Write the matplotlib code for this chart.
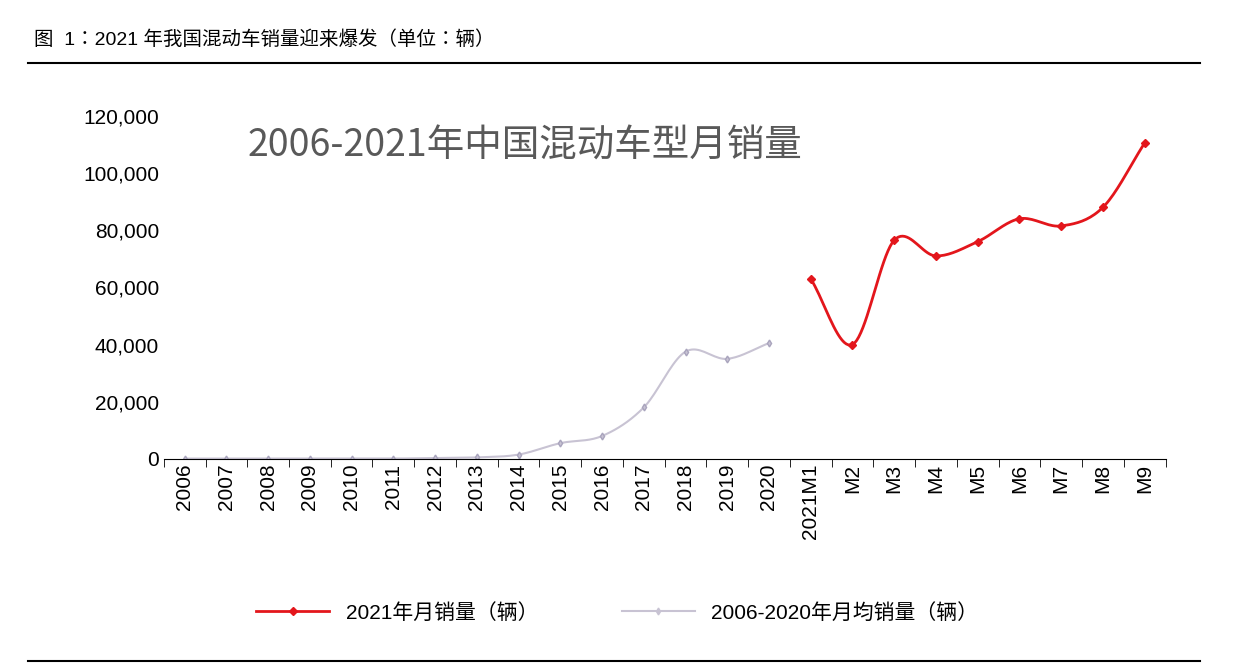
import numpy as np
import matplotlib.pyplot as plt
from matplotlib.lines import Line2D
from matplotlib import font_manager

# pick whichever CJK family name is actually registered
names = {f.name for f in font_manager.fontManager.ttflist}
cjk = [n for n in ['Noto Sans CJK SC', 'Noto Sans CJK JP', 'Noto Sans CJK TC', 'Noto Sans CJK KR',
                   'Noto Sans SC', 'Noto Sans CJK'] if n in names]
if not cjk:
    cjk = [n for n in names if 'CJK' in n]
plt.rcParams['font.family'] = ['Liberation Sans'] + cjk
TITLE_FONT = cjk + ['Liberation Sans']

CATEGORIES = [str(y) for y in range(2006, 2021)] + ['2021M1', 'M2', 'M3', 'M4', 'M5', 'M6', 'M7', 'M8', 'M9']
AVG_2006_2020 = [100, 100, 100, 100, 100, 100, 300, 500, 1500, 5500, 8000, 18000, 37500, 35000, 40500]
MONTHLY_2021 = [63000, 40000, 76500, 71000, 76000, 84000, 81500, 88000, 110500]
YTICKS = [0, 20000, 40000, 60000, 80000, 100000, 120000]


def smooth(x, y, n=20):
    # Catmull-Rom style curve through the points (like Excel smoothed lines)
    x = np.asarray(x, float); y = np.asarray(y, float)
    px = np.concatenate([[2*x[0]-x[1]], x, [2*x[-1]-x[-2]]])
    py = np.concatenate([[2*y[0]-y[1]], y, [2*y[-1]-y[-2]]])
    xs, ys = [], []
    t = np.linspace(0, 1, n, endpoint=False)
    for i in range(1, len(px)-2):
        for arr, out in ((px, xs), (py, ys)):
            p0, p1, p2, p3 = arr[i-1:i+3]
            out.extend(0.5*((2*p1) + (-p0+p2)*t + (2*p0-5*p1+4*p2-p3)*t**2 + (-p0+3*p1-3*p2+p3)*t**3))
    xs.append(x[-1]); ys.append(y[-1])
    return np.array(xs), np.array(ys)


fig = plt.figure(figsize=(12.6, 6.66), dpi=100)
fig.text(0.027, 0.932, '图  1：2021 年我国混动车销量迎来爆发（单位：辆）', fontsize=14)
fig.add_artist(Line2D([0.022, 0.952], [0.906, 0.906], color='black', lw=1.5))
fig.add_artist(Line2D([0.022, 0.952], [0.008, 0.008], color='black', lw=1.5))

ax = fig.add_axes([0.13, 0.311, 0.795, 0.515])
xg = np.arange(len(AVG_2006_2020))
xr = np.arange(len(AVG_2006_2020), len(CATEGORIES))
sx, sy = smooth(xg, AVG_2006_2020)
ax.plot(sx, sy, color='#c8c3d3', lw=1.5)
ax.plot(xg, AVG_2006_2020, ls='none', marker='d', ms=3.5, color='#c8c3d3', mec='#a9a4bd')
sx, sy = smooth(xr, MONTHLY_2021)
ax.plot(sx, sy, color='#e3161c', lw=2)
ax.plot(xr, MONTHLY_2021, ls='none', marker='D', ms=4, color='#e3161c')

ax.set_xlim(-0.5, len(CATEGORIES)-0.5)
ax.set_ylim(0, 120000)
ax.set_yticks(YTICKS)
ax.set_yticklabels([f'{v:,}' for v in YTICKS], fontsize=15)
ax.set_xticks(np.arange(len(CATEGORIES)))
ax.set_xticklabels(CATEGORIES, rotation=90, fontsize=15)
ax.set_xticks(np.arange(len(CATEGORIES)+1)-0.5, minor=True)
ax.tick_params(axis='x', which='major', length=0)
ax.tick_params(axis='x', which='minor', length=6, direction='out')
ax.tick_params(axis='y', length=0)
for s in ['top', 'right', 'left']:
    ax.spines[s].set_visible(False)
ax.text(0.36, 0.97, '2006-2021年中国混动车型月销量', transform=ax.transAxes, ha='center', va='top',
        fontsize=27, color='#595959', family=TITLE_FONT)

handles = [Line2D([], [], color='#e3161c', lw=2, marker='D', ms=4),
           Line2D([], [], color='#c8c3d3', lw=1.5, marker='d', ms=3.5)]
fig.legend(handles, ['2021年月销量（辆）', '2006-2020年月均销量（辆）'], loc='center',
           bbox_to_anchor=(0.49, 0.08), ncol=2, frameon=False, handlelength=3.5, columnspacing=4,
           prop={'size': 15})

fig.savefig('out.png', dpi=100)
